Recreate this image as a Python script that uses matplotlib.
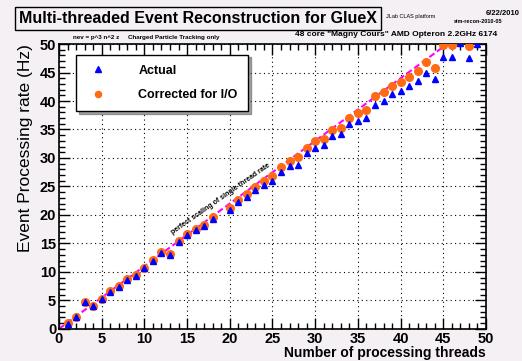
import numpy as np
import matplotlib
matplotlib.use('Agg')
import matplotlib.pyplot as plt
from matplotlib.ticker import MultipleLocator

# number of threads (19 was not measured)
threads = [1, 2, 3, 4, 5, 6, 7, 8, 9, 10, 11, 12, 13, 14, 15, 16, 17, 18,
           20, 21, 22, 23, 24, 25, 26, 27, 28, 29, 30, 31, 32, 33, 34, 35,
           36, 37, 38, 39, 40, 41, 42, 43, 44, 45, 46, 47, 48, 49]

# measured rate (Hz)
actual = [0.9, 2.0, 4.8, 4.0, 5.2, 6.5, 7.4, 8.6, 9.3, 10.6, 12.0, 13.3, 13.0,
          15.2, 16.4, 17.3, 18.1, 19.3,
          20.9, 22.2, 23.2, 24.3, 25.3, 26.0, 27.5, 28.6, 28.8, 30.8, 31.7,
          32.3, 33.9, 34.2, 35.9, 36.5, 37.1, 39.3, 40.0, 41.2, 41.8, 42.6,
          43.5, 45.0, 43.9, 47.8, 47.8, 50.2, 47.5, 50.0]

# rate corrected for I/O (Hz), nan = off the top of the plot
corrected = [1.0, 2.1, 4.8, 4.1, 5.3, 6.6, 7.5, 8.8, 9.4, 10.7, 12.1, 13.5, 13.1,
             15.4, 16.6, 17.5, 18.3, 19.6,
             21.3, 22.7, 23.7, 24.9, 26.0, 26.8, 28.5, 29.5, 30.1, 31.7, 32.9,
             33.3, 34.9, 35.2, 37.1, 37.9, 38.5, 40.8, 41.6, 42.7, 43.4, 44.2,
             45.2, 46.8, 45.8, 49.8, 49.8, np.nan, 49.6, np.nan]

single_rate = 1.1  # Hz, for the perfect scaling line

plt.rcParams['font.family'] = ['Liberation Sans', 'DejaVu Sans']
plt.rcParams['font.weight'] = 'bold'

fig = plt.figure(figsize=(5.22, 3.61), dpi=100)
fig.patch.set_facecolor('#f4f0f4')
ax = fig.add_axes([0.113, 0.089, 0.818, 0.789])
ax.set_facecolor('white')

line_x = np.array([0, 50])
ax.plot(line_x, single_rate * line_x, color='#ff00ff', linestyle=(0, (3, 1.5)),
        linewidth=1.5, zorder=2)

ax.plot(threads, corrected, 'o', color='#ff6a13', markersize=5.5, zorder=3,
        label='Corrected for I/O')
ax.plot(threads, actual, '^', color='#0000ff', markersize=5, zorder=4,
        label='Actual')

ax.set_xlim(0, 50)
ax.set_ylim(0, 50)
ax.xaxis.set_major_locator(MultipleLocator(5))
ax.xaxis.set_minor_locator(MultipleLocator(1))
ax.yaxis.set_major_locator(MultipleLocator(5))
ax.yaxis.set_minor_locator(MultipleLocator(1))
ax.tick_params(which='both', direction='in', top=True, right=True,
               labelsize=10.5, pad=2)
ax.tick_params(which='major', length=8, width=1)
ax.tick_params(which='minor', length=4, width=1)
ax.grid(True, which='major', color='black', linestyle=(0, (1, 3)), linewidth=0.8)
for s in ax.spines.values():
    s.set_linewidth(1.2)

ax.set_xlabel('Number of processing threads', fontsize=10, fontweight='bold',
              loc='right', labelpad=0)
ax.set_ylabel('Event Processing rate (Hz)', fontsize=12.5, fontweight='normal',
              loc='top', labelpad=5)

handles, labels = ax.get_legend_handles_labels()
leg = ax.legend(handles[::-1], labels[::-1], loc='upper left',
                bbox_to_anchor=(0.025, 0.985), fontsize=9, frameon=True,
                fancybox=False, shadow=True, edgecolor='black',
                borderpad=0.8, labelspacing=1.0, handletextpad=2.2,
                markerscale=0.8)
leg.get_frame().set_linewidth(1.0)
for t in leg.get_texts():
    t.set_fontweight('bold')

ax.text(13.5, 16.3, 'perfect scaling of single thread rate', rotation=35,
        fontsize=5, fontweight='bold', rotation_mode='anchor',
        ha='left', va='bottom', zorder=5)

# title box
fig.text(0.38, 0.95, 'Multi-threaded Event Reconstruction for GlueX',
         ha='center', va='center', fontsize=11.5, fontweight='bold',
         bbox=dict(boxstyle='square,pad=0.25', facecolor='#f4f0f4',
                   edgecolor='black', linewidth=1.0))
fig.text(0.74, 0.955, 'JLab CLAS platform', fontsize=4, fontweight='normal',
         va='center')
fig.text(0.93, 0.962, '6/22/2010', fontsize=5.5, ha='left', va='center')
fig.text(0.87, 0.94, 'sim-recon-2010-05', fontsize=4, ha='left', va='center')
fig.text(0.565, 0.905, '48 core "Magny Cours" AMD Opteron 2.2GHz 6174',
         fontsize=6, va='center')
fig.text(0.14, 0.897, 'nev = p^3 n^2 z     Charged Particle Tracking only',
         fontsize=4.5, va='center')

fig.savefig('out.png', dpi=100, facecolor=fig.get_facecolor())
